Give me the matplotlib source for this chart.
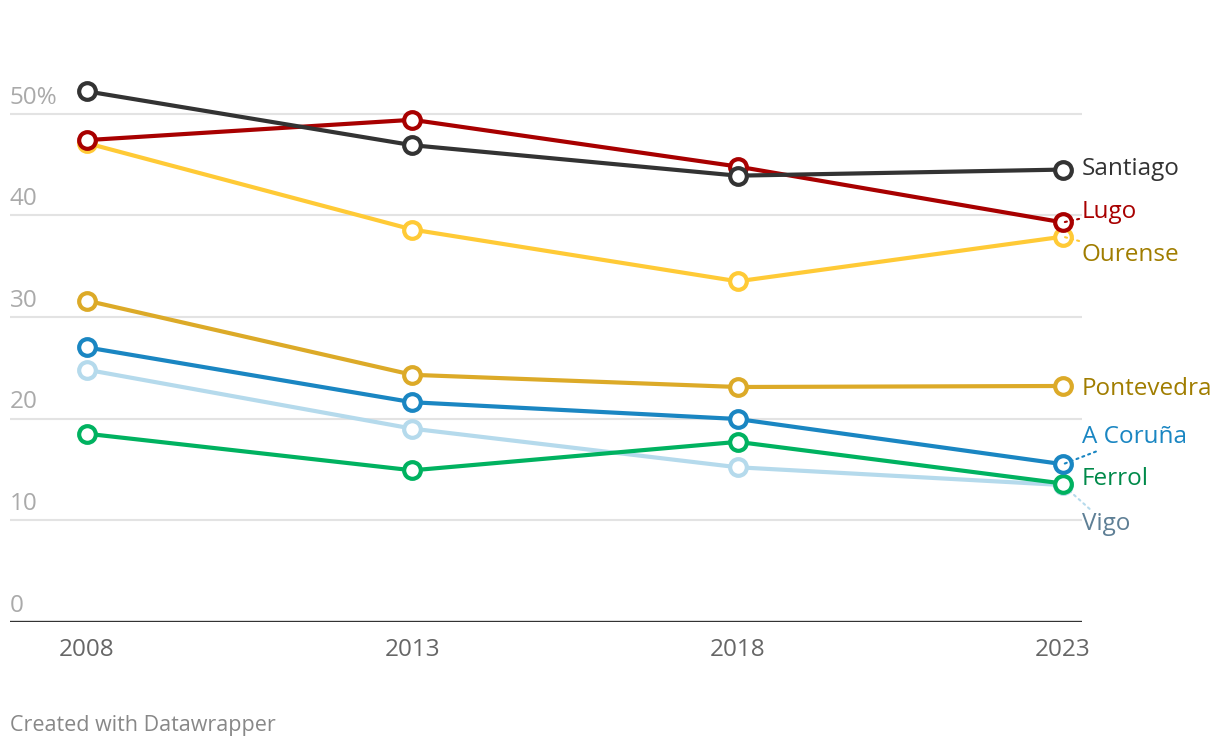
import matplotlib
matplotlib.use("Agg")
import matplotlib.pyplot as plt
import matplotlib.transforms as mtransforms

plt.rcParams['font.family'] = ['Open Sans', 'DejaVu Sans']

# data (share in %)
years = [2008, 2013, 2018, 2023]
cities = ["Vigo", "Ferrol", "A Coruña", "Pontevedra", "Ourense", "Lugo", "Santiago"]
santiago = [52.2, 46.9, 43.9, 44.5]
lugo = [47.4, 49.4, 44.8, 39.3]
ourense = [47.1, 38.6, 33.5, 37.9]
pontevedra = [31.6, 24.3, 23.1, 23.2]
a_coruna = [27.0, 21.6, 19.95, 15.5]
vigo = [24.8, 19.0, 15.2, 13.45]
ferrol = [18.5, 14.9, 17.7, 13.6]
yticks = [0, 10, 20, 30, 40, 50]
ytick_labels = ["0", "10", "20", "30", "40", "50%"]

values = {
    "Santiago": santiago, "Lugo": lugo, "Ourense": ourense,
    "Pontevedra": pontevedra, "A Coruña": a_coruna, "Vigo": vigo,
    "Ferrol": ferrol,
}

# styling: line colour, label colour, label y (data units), leader line?
style = {
    "Santiago":   ("#333333", "#333333", 44.6, False),
    "Lugo":       ("#a80000", "#a80000", 40.3, True),
    "Ourense":    ("#ffca36", "#a07d00", 36.1, True),
    "Pontevedra": ("#dcaa28", "#a07d00", 22.9, False),
    "A Coruña":   ("#1a86c2", "#1a86c2", 18.2, True),
    "Ferrol":     ("#00b260", "#008a4a", 14.0, False),
    "Vigo":       ("#b5daec", "#5e7f95", 9.65, True),
}

fig = plt.figure(figsize=(12.2, 7.48), dpi=100)
ax = fig.add_axes([10 / 1220, (748 - 621.7) / 748, 1072 / 1220, 609.6 / 748])
ax.set_xlim(2006.817, 2023.292)
ax.set_ylim(0, 60)

for s in ax.spines.values():
    s.set_visible(False)
ax.set_yticks([])
ax.set_xticks(years)
ax.set_xticklabels([str(y) for y in years], fontsize=17.5, color="#666666")
ax.tick_params(axis="x", length=0, pad=11.5)

# gridlines + y labels
label_tr = mtransforms.offset_copy(ax.transData, fig=fig, x=0, y=3, units="points")
for v, lab in zip(yticks, ytick_labels):
    if v == 0:
        ax.axhline(0, color="#333333", lw=1.7, zorder=3)
    else:
        ax.axhline(v, color="#e3e3e3", lw=1.5, zorder=0)
    ax.text(2006.817, v, lab, transform=label_tr, ha="left", va="bottom",
            fontsize=17.5, color="#aaaaaa")

for i, name in enumerate(cities):
    col, lcol, ly, leader = style[name]
    z = 4 + i
    ax.plot(years, values[name], color=col, lw=3, zorder=z,
            marker="o", markersize=12, markerfacecolor="white",
            markeredgecolor=col, markeredgewidth=3, solid_capstyle="round")
    if leader:
        ax.annotate(name, xy=(years[-1], values[name][-1]),
                    xytext=(years[-1] + 0.29, ly), fontsize=17.5, color=lcol,
                    ha="left", va="center", zorder=z,
                    arrowprops=dict(arrowstyle="-", color=col, lw=1.5,
                                    linestyle=(0, (1, 2)), shrinkA=0, shrinkB=1))
    else:
        ax.text(years[-1] + 0.29, ly, name, fontsize=17.5, color=lcol,
                ha="left", va="center", zorder=z)

fig.text(10 / 1220, 1 - 726 / 748, "Created with Datawrapper", fontsize=15.5,
         color="#888888", ha="left", va="center")

fig.savefig("out.png", dpi=100)
